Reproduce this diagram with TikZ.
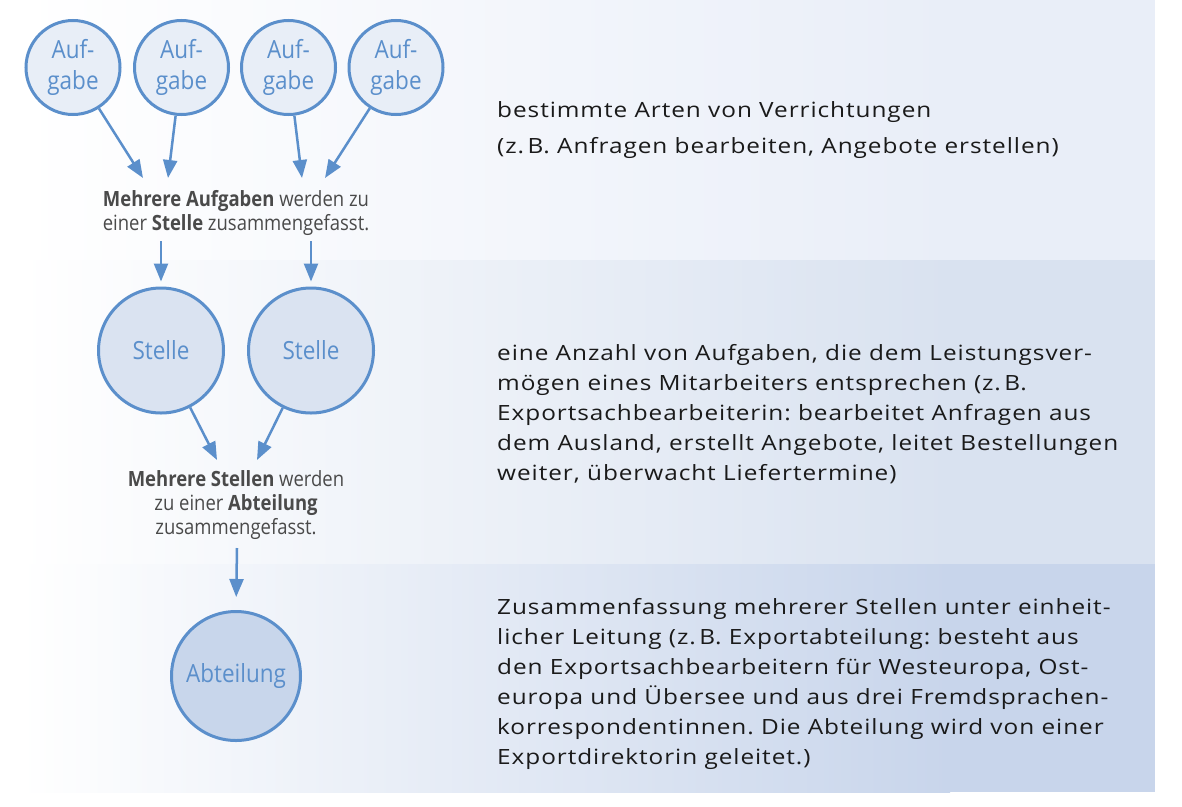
\documentclass[tikz,border=0pt]{standalone}
\usepackage{fontspec}
\setmainfont{Open Sans}
\newfontfamily\bodyfont[FakeStretch=1.16, LetterSpace=4.5]{Open Sans}
\newfontfamily\condfont[FakeStretch=0.88]{Open Sans}
\newfontfamily\circfont[FakeStretch=0.9]{Open Sans}
\usetikzlibrary{arrows.meta}
\frenchspacing

\definecolor{bandA}{HTML}{E9EEF8}
\definecolor{bandB}{HTML}{D9E2F0}
\definecolor{bandC}{HTML}{C8D5EB}
\definecolor{lineblue}{HTML}{5B8FCB}
\definecolor{fillA}{HTML}{E8EEF7}
\definecolor{fillB}{HTML}{DAE3F1}
\definecolor{fillC}{HTML}{C8D6EB}
\definecolor{labelgray}{HTML}{4A4A4A}
\definecolor{bodytext}{HTML}{1A1A1A}

\tikzset{
  unit/.style={circle, draw=lineblue, line width=3pt, inner sep=0pt,
    text=lineblue, align=center, font=\circfont\fontsize{25}{31}\selectfont},
  task/.style={unit, fill=fillA, minimum size=94pt},
  post/.style={unit, fill=fillB, minimum size=125pt},
  dept/.style={unit, fill=fillC, minimum size=129pt},
  arr/.style={draw=lineblue, line width=2.5pt,
    -{Triangle[length=18pt,width=14pt]}},
  note/.style={text=labelgray, align=center, inner sep=0pt,
    font=\condfont\fontsize{21}{24}\selectfont},
  body/.style={text=bodytext, align=left, anchor=west, inner sep=0pt,
    font=\bodyfont\fontsize{21}{30}\selectfont}
}

\begin{document}
\begin{tikzpicture}[x=1pt, y=-1pt]
\useasboundingbox (0,0) rectangle (1182,806);

% background bands, fading to white on the left
\shade[left color=white, right color=bandA] (20,0) rectangle (950,260);
\fill[bandA] (950,0) rectangle (1155,260);
\shade[left color=white, right color=bandB] (20,260) rectangle (950,564);
\fill[bandB] (950,260) rectangle (1155,564);
\shade[left color=white, right color=bandC] (20,564) rectangle (950,792);
\fill[bandC] (950,564) rectangle (1155,792);

% tasks
\node[task] (a1) at (73,67.5) {Auf-\\gabe};
\node[task] (a2) at (181.5,67.5) {Auf-\\gabe};
\node[task] (a3) at (288.5,67.5) {Auf-\\gabe};
\node[task] (a4) at (396,67.5) {Auf-\\gabe};

\coordinate (t1) at (143,178);
\coordinate (t2) at (168,178);
\coordinate (t3) at (302,178);
\coordinate (t4) at (325,178);
\draw[arr] (a1) -- (t1);
\draw[arr] (a2) -- (t2);
\draw[arr] (a3) -- (t3);
\draw[arr] (a4) -- (t4);

\node[note] (n1) at (236,213)
  {{\bfseries Mehrere Aufgaben} werden zu\\einer {\bfseries Stelle} zusammengefasst.};

% posts
\node[post] (s1) at (161,350.5) {Stelle};
\node[post] (s2) at (311,350.5) {Stelle};

\coordinate (d1) at (161,241);
\coordinate (d2) at (311,241);
\draw[arr, shorten >=5pt] (d1) -- (s1.north);
\draw[arr, shorten >=5pt] (d2) -- (s2.north);

\coordinate (u1) at (217,460);
\coordinate (u2) at (257,460);
\draw[arr] (s1) -- (u1);
\draw[arr] (s2) -- (u2);

\node[note] (n2) at (236,505)
  {{\bfseries Mehrere Stellen} werden\\zu einer {\bfseries Abteilung}\\zusammengefasst.};

% department
\node[dept] (ab) at (236,676) {Abteilung};
\coordinate (d3) at (237,548);
\draw[arr, shorten >=13pt] (d3) -- (ab.north);

% descriptions
\node[body, font=\bodyfont\fontsize{21}{36}\selectfont] (b1) at (497,130)
  {bestimmte Arten von Verrichtungen\\(z.\,B. Anfragen bearbeiten, Angebote erstellen)};
\node[body] (b2) at (497,414)
  {eine Anzahl von Aufgaben, die dem Leistungsver-\\
   mögen eines Mitarbeiters entsprechen (z.\,B.\\
   Exportsachbearbeiterin: bearbeitet Anfragen aus\\
   dem Ausland, erstellt Angebote, leitet Bestellungen\\
   weiter, überwacht Liefertermine)};
\node[body] (b3) at (497,684)
  {Zusammenfassung mehrerer Stellen unter einheit-\\
   licher Leitung (z.\,B. Exportabteilung: besteht aus\\
   den Exportsachbearbeitern für Westeuropa, Ost-\\
   europa und Übersee und aus drei Fremdsprachen-\\
   korrespondentinnen. Die Abteilung wird von einer\\
   Exportdirektorin geleitet.)};
\end{tikzpicture}
\end{document}
